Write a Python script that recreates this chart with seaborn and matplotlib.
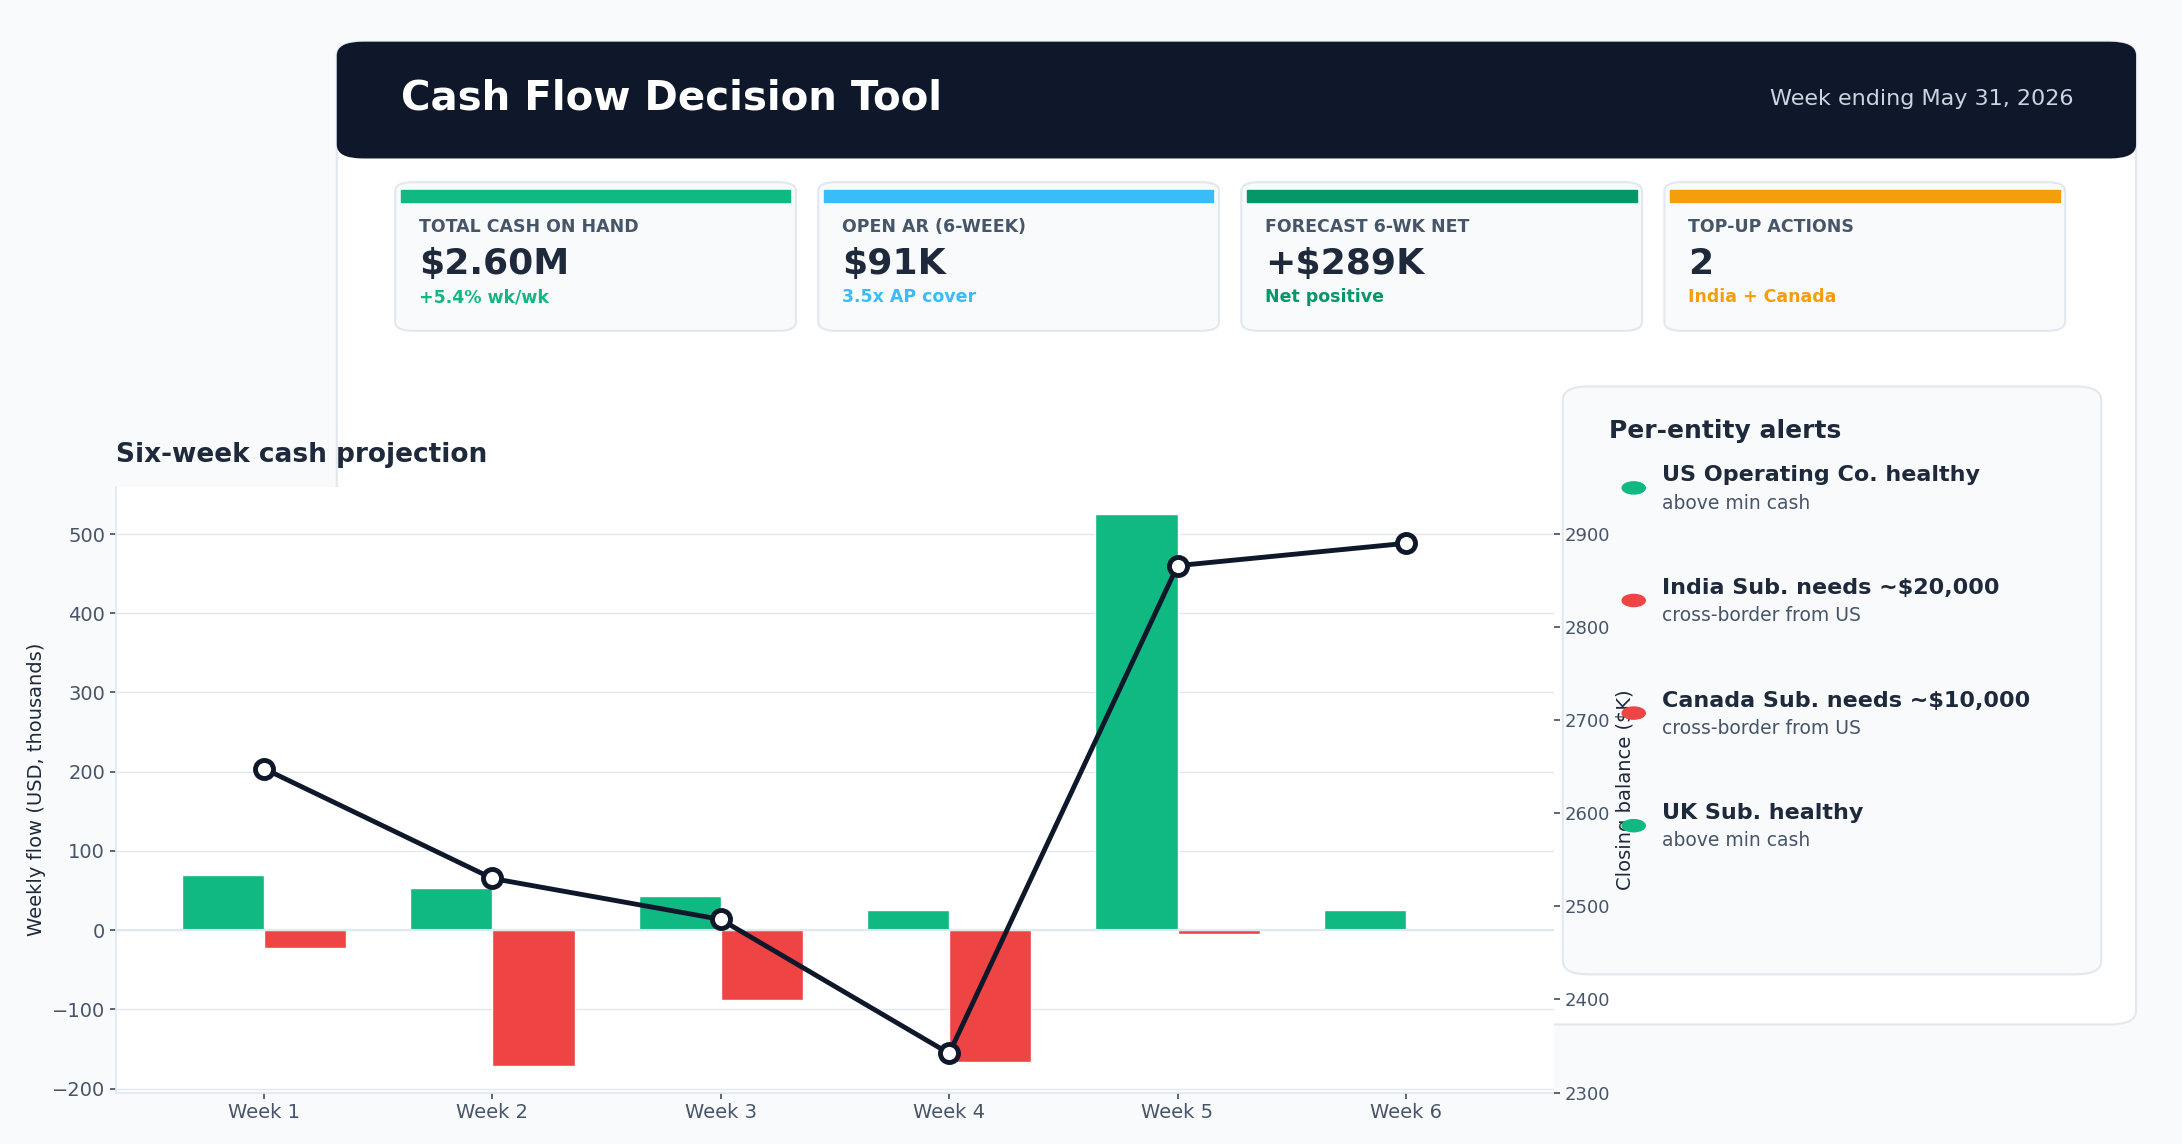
import matplotlib
matplotlib.use("Agg")
import matplotlib.pyplot as plt
from matplotlib.patches import FancyBboxPatch, Rectangle, Circle
import seaborn as sns
import pandas as pd

weeks = ["Week 1", "Week 2", "Week 3", "Week 4", "Week 5", "Week 6"]
inflows = [70, 53, 43, 25, 525, 25]
outflows = [-23, -172, -88, -167, -5, 0]
closing = [2648, 2530, 2486, 2342, 2866, 2890]

kpi_labels = ["TOTAL CASH ON HAND", "OPEN AR (6-WEEK)", "FORECAST 6-WK NET", "TOP-UP ACTIONS"]
kpi_values = ["$2.60M", "$91K", "+$289K", "2"]
kpi_notes = ["+5.4% wk/wk", "3.5x AP cover", "Net positive", "India + Canada"]
kpi_colors = ["#10b981", "#38bdf8", "#059669", "#f59e0b"]

alert_titles = ["US Operating Co. healthy", "India Sub. needs ~$20,000",
                "Canada Sub. needs ~$10,000", "UK Sub. healthy"]
alert_notes = ["above min cash", "cross-border from US", "cross-border from US", "above min cash"]
alert_colors = ["#10b981", "#ef4444", "#ef4444", "#10b981"]

sns.set_theme(style="white")
plt.rcParams["font.family"] = ["DejaVu Sans"]

W, H = 1568, 823
fig = plt.figure(figsize=(21.82, 11.44), dpi=100, facecolor="#f8fafc")


def fx(x):
    return x / W


def fy(y):
    return 1 - y / H


def box(x0, y0, x1, y1, fc, ec="none", r=0.012, z=0):
    p = FancyBboxPatch((fx(x0), fy(y1)), fx(x1 - x0), fy(y0) - fy(y1),
                       boxstyle=f"round,pad=0,rounding_size={r}", transform=fig.transFigure,
                       facecolor=fc, edgecolor=ec, linewidth=1.5, zorder=z)
    fig.patches.append(p)


# main card and header
box(242, 30, 1535, 737, "white", "#e2e8f0", z=0)
box(242, 30, 1535, 114, "#0f172a", z=1)
fig.text(fx(288), fy(71), "Cash Flow Decision Tool", color="white", fontsize=29,
         fontweight="bold", va="center")
fig.text(fx(1490), fy(71), "Week ending May 31, 2026", color="#cbd5e1", fontsize=16,
         ha="right", va="center")

# KPI cards
for i in range(4):
    x0 = 284 + i * 304
    box(x0, 131, x0 + 288, 238, "#f8fafc", "#e2e8f0", r=0.008, z=1)
    fig.patches.append(Rectangle((fx(x0 + 4), fy(145)), fx(280), fy(137) - fy(145),
                                 transform=fig.transFigure, color=kpi_colors[i], zorder=2))
    fig.text(fx(x0 + 17), fy(163), kpi_labels[i], color="#475569", fontsize=12.5,
             fontweight="bold", va="center")
    fig.text(fx(x0 + 17), fy(190), kpi_values[i], color="#1e293b", fontsize=26,
             fontweight="bold", va="center")
    fig.text(fx(x0 + 17), fy(214), kpi_notes[i], color=kpi_colors[i], fontsize=12.5,
             fontweight="bold", va="center")

# alerts card
box(1123, 278, 1510, 701, "#f8fafc", "#e2e8f0", r=0.012, z=1)
fig.text(fx(1156), fy(310), "Per-entity alerts", color="#1e293b", fontsize=18,
         fontweight="bold", va="center")
for i in range(4):
    y = 342 + i * 81
    fig.patches.append(Circle((fx(1174), fy(y + 9)), 0.0053, transform=fig.transFigure,
                              color=alert_colors[i], zorder=3))
    fig.text(fx(1194), fy(y), alert_titles[i], color="#1e293b", fontsize=16,
             fontweight="bold", va="center", zorder=4)
    fig.text(fx(1194), fy(y + 20), alert_notes[i], color="#475569", fontsize=13.5,
             va="center", zorder=4)

# chart
ax = fig.add_axes([fx(83), fy(786), fx(1117 - 83), fy(350) - fy(786)])
ax.set_facecolor("white")
ax.set_zorder(2)
df = pd.DataFrame({
    "week": weeks * 2,
    "flow": inflows + outflows,
    "kind": ["Inflow"] * 6 + ["Outflow"] * 6,
})
sns.barplot(data=df, x="week", y="flow", hue="kind", palette=["#10b981", "#ef4444"],
            width=0.72, saturation=1, ax=ax, legend=False)
ax.set_ylim(-205, 560)
ax.set_xlim(-0.65, 5.65)
ax.set_yticks(range(-200, 501, 100))
ax.yaxis.grid(True, color="#e2e8f0", linewidth=1)
ax.set_axisbelow(True)
ax.axhline(0, color="#e2e8f0", linewidth=1.5, zorder=1)
ax.set_xlabel("")
ax.set_ylabel("Weekly flow (USD, thousands)", fontsize=14, color="#1e293b")
ax.tick_params(axis="both", labelsize=14, colors="#475569", length=4, left=True, bottom=True)
for s in ["top", "right"]:
    ax.spines[s].set_visible(False)
for s in ["left", "bottom"]:
    ax.spines[s].set_color("#e2e8f0")
ax.set_title("Six-week cash projection", loc="left", fontsize=19, fontweight="bold",
             color="#1e293b", pad=18)

ax2 = ax.twinx()
sns.lineplot(x=list(range(6)), y=closing, ax=ax2, color="#0f172a", linewidth=3.5,
             marker="o", markersize=13, markerfacecolor="white", markeredgecolor="#0f172a",
             markeredgewidth=3.5)
ax2.set_ylim(2300, 2951)
ax2.set_yticks(range(2300, 2901, 100))
ax2.set_ylabel("Closing balance ($K)", fontsize=14, color="#1e293b")
ax2.tick_params(axis="y", labelsize=13, colors="#475569", length=4, right=True)
for s in ["top", "right", "left", "bottom"]:
    ax2.spines[s].set_visible(False)

fig.savefig("out.png", dpi=100, facecolor=fig.get_facecolor())
